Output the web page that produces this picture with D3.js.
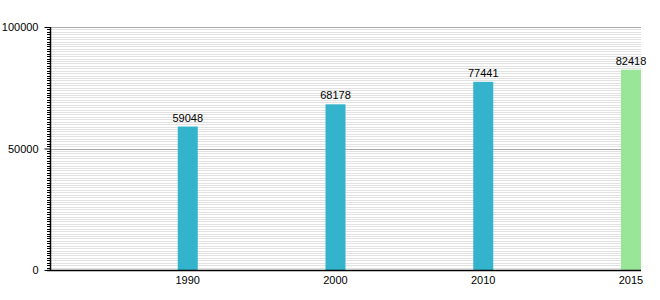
<!DOCTYPE html>
<html><head><meta charset="utf-8">
<script src="https://cdn.jsdelivr.net/npm/d3@7"></script>
<style>body{margin:0;background:#fff}svg{display:block}text{font-family:"Liberation Sans",Arial,sans-serif;font-size:11px;fill:#000}</style>
</head><body><svg id="c" width="660" height="300"></svg>
<script>
const years = ["1990","2000","2010","2015"];
const population = [59048, 68178, 77441, 82418];
const barColors = ["#33b3cc","#33b3cc","#33b3cc","#99e699"];
const yTickLabels = [0, 50000, 100000];

(function(){
const svg = d3.select("#c");
const mLeft = 50, mRight = 641, mTop = 27, mBottom = 270, barW = 20;
const y = d3.scaleLinear().domain([0, 100000]).range([mBottom, mTop]);
const x = d3.scaleLinear().domain([0, years.length]).range([mLeft, mRight]);

const minor = d3.range(0, 100001, 1000).filter(v => v % 50000 !== 0);
svg.append("g").selectAll("line").data(minor).join("line")
  .attr("x1", mLeft).attr("x2", mRight)
  .attr("y1", d => Math.round(y(d)) + 0.5).attr("y2", d => Math.round(y(d)) + 0.5)
  .attr("stroke", "#e2e2e2").attr("stroke-width", 1);
svg.append("g").selectAll("line").data(yTickLabels.filter(v => v > 0)).join("line")
  .attr("x1", mLeft).attr("x2", mRight)
  .attr("y1", d => Math.round(y(d)) + 0.5).attr("y2", d => Math.round(y(d)) + 0.5)
  .attr("stroke", "#aaaaaa").attr("stroke-width", 1);

svg.append("g").selectAll("line").data(minor).join("line")
  .attr("x1", mLeft - 3).attr("x2", mLeft)
  .attr("y1", d => Math.round(y(d)) + 0.5).attr("y2", d => Math.round(y(d)) + 0.5)
  .attr("stroke", "#000").attr("stroke-width", 1);

const yAxis = d3.axisLeft(y).tickValues(yTickLabels).tickFormat(d3.format("d")).tickSize(6).tickPadding(6);
const ga = svg.append("g").attr("transform", `translate(${mLeft + 0.5},0)`).call(yAxis);
ga.select(".domain").remove();
ga.selectAll("text").style("font-size", "11px").style("font-family", '"Liberation Sans",Arial,sans-serif');
ga.selectAll(".tick line").attr("stroke", "#000");

svg.append("g").selectAll("rect").data(population).join("rect")
  .attr("x", (d, i) => x(i + 1) - barW)
  .attr("width", barW)
  .attr("y", d => y(d))
  .attr("height", d => mBottom - y(d))
  .attr("fill", (d, i) => barColors[i]);

svg.append("g").selectAll("text").data(population).join("text")
  .attr("x", (d, i) => x(i + 1) - barW / 2)
  .attr("y", d => y(d) - 5)
  .attr("text-anchor", "middle")
  .text(d => d);

svg.append("g").selectAll("text").data(years).join("text")
  .attr("x", (d, i) => x(i + 1) - barW / 2)
  .attr("y", mBottom + 14)
  .attr("text-anchor", "middle")
  .text(d => d);

svg.append("line").attr("x1", mLeft + 0.5).attr("x2", mLeft + 0.5).attr("y1", mTop).attr("y2", mBottom + 1)
  .attr("stroke", "#000").attr("stroke-width", 1.5);
svg.append("line").attr("x1", mLeft - 3).attr("x2", mRight).attr("y1", mBottom + 0.5).attr("y2", mBottom + 0.5)
  .attr("stroke", "#000").attr("stroke-width", 1.5);
})();
</script></body></html>
